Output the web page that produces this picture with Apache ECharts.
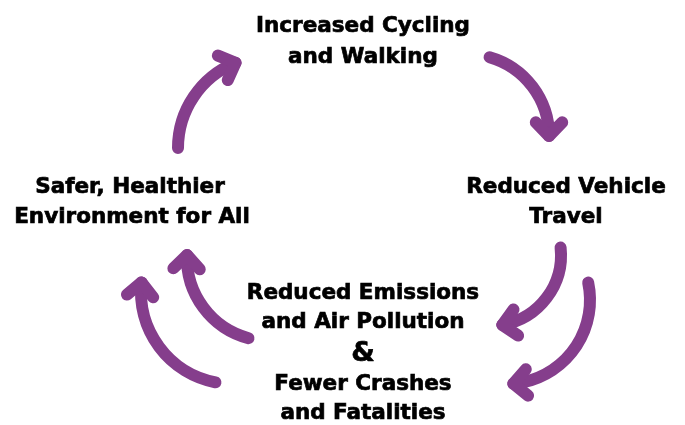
<!DOCTYPE html>
<html><head><meta charset="utf-8">
<script src="https://cdn.jsdelivr.net/npm/echarts@6/dist/echarts.min.js"></script>
<style>html,body{margin:0;padding:0;background:#fff}#c{width:685px;height:425px}</style>
</head><body><div id="c"></div>
<script>
// Stage text, one entry per printed line
const stageLines = ['Increased Cycling', 'and Walking', 'Reduced Vehicle', 'Travel',
  'Reduced Emissions', 'and Air Pollution', '&', 'Fewer Crashes', 'and Fatalities',
  'Safer, Healthier', 'Environment for All'];
// Layout (pixel-space axis units): centre of each line and its font size
const stageLinePos = [[363, 26], [363, 57], [566, 187], [566, 217],
  [363, 293], [363, 322], [363, 354], [363, 384], [363, 413],
  [130, 187], [132, 217]];
const stageLineSize = [21.5, 21.5, 21.5, 21.5, 21.5, 21.5, 27, 21.5, 21.5, 21.5, 21.5];
// Arrows: centre x, centre y, radius, start angle, end angle (degrees, y up)
const arrowArcs = [
  [270, 148, 92, 180, 112],
  [467, 136, 82, 74, 0],
  [490, 255, 71, 6, -80],
  [506, 300, 84, 12, -85],
  [270, 258, 83, 255, 178],
  [233, 292, 92, 259, 174]
];
const arrowColor = '#853e8c';

const textData = stageLines.map((t, i) => [stageLinePos[i][0], stageLinePos[i][1], t, stageLineSize[i]]);

const chart = echarts.init(document.getElementById('c'), null, {renderer: 'canvas'});
chart.setOption({
  animation: false,
  grid: {left: 0, right: 0, top: 0, bottom: 0},
  xAxis: {type: 'value', min: 0, max: 685, show: false},
  yAxis: {type: 'value', min: 0, max: 425, inverse: true, show: false},
  series: [
    {
      type: 'custom',
      clip: false,
      data: arrowArcs,
      renderItem: function (params, api) {
        const c = api.coord([api.value(0), api.value(1)]);
        const r = api.size([api.value(2), 0])[0];
        const s1 = -api.value(3) * Math.PI / 180;
        const s2 = -api.value(4) * Math.PI / 180;
        const dir = s2 > s1 ? 1 : -1;
        const tip = [c[0] + r * Math.cos(s2), c[1] + r * Math.sin(s2)];
        const back = [dir * Math.sin(s2), -dir * Math.cos(s2)];
        const L = 19, a = 44 * Math.PI / 180;
        const rot = (v, t) => [v[0] * Math.cos(t) - v[1] * Math.sin(t), v[0] * Math.sin(t) + v[1] * Math.cos(t)];
        const b1 = rot(back, a), b2 = rot(back, -a);
        const st = {stroke: arrowColor, lineWidth: 12, fill: null, lineCap: 'round', lineJoin: 'round'};
        return {
          type: 'group',
          children: [
            {type: 'arc', shape: {cx: c[0], cy: c[1], r: r, startAngle: Math.min(s1, s2), endAngle: Math.max(s1, s2), clockwise: true}, style: st},
            {type: 'polyline', shape: {points: [[tip[0] + L * b1[0], tip[1] + L * b1[1]], tip, [tip[0] + L * b2[0], tip[1] + L * b2[1]]]}, style: st}
          ]
        };
      }
    },
    {
      type: 'custom',
      clip: false,
      data: textData,
      renderItem: function (params, api) {
        const p = api.coord([api.value(0), api.value(1)]);
        const d = textData[params.dataIndex];
        return {
          type: 'text',
          style: {
            text: d[2], x: p[0], y: p[1], align: 'center', verticalAlign: 'middle',
            fill: '#000', fontSize: d[3], fontWeight: 'bold', fontFamily: 'DejaVu Sans',
            stroke: '#000', lineWidth: 0.7
          }
        };
      }
    }
  ]
});
</script></body></html>
